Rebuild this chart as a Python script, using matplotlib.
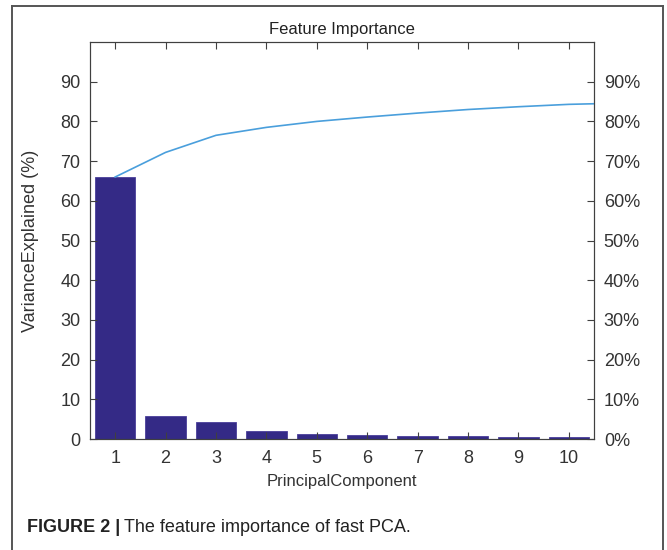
import matplotlib.pyplot as plt
from matplotlib.lines import Line2D
from matplotlib.ticker import FuncFormatter

plt.rcParams["font.family"] = ["Liberation Sans", "DejaVu Sans"]

components = [1, 2, 3, 4, 5, 6, 7, 8, 9, 10]
variance = [66.0, 5.8, 4.35, 1.95, 1.35, 0.95, 0.85, 0.7, 0.6, 0.5]
# cumulative curve as drawn (it runs on past the last bar to the axis edge)
cum_x = [1, 2, 3, 4, 5, 6, 7, 8, 9, 10, 11]
cum_pct = [66.0, 72.2, 76.5, 78.5, 80.0, 81.1, 82.1, 83.0, 83.7, 84.3, 84.6]
yticks = [0, 10, 20, 30, 40, 50, 60, 70, 80, 90]

axis_col = "#404040"

fig = plt.figure(figsize=(6.67, 5.5), dpi=100)
ax = fig.add_axes([0.1349, 0.2018, 0.7557, 0.7218])

ax.bar(components, variance, width=0.8, color="#342a86", edgecolor="#4a3f9a", linewidth=0.6)
ax.set_xlim(0.5, 10.5)
ax.set_ylim(0, 100)
ax.set_xticks(components)
ax.set_yticks(yticks)

ax2 = ax.twinx()
ax2.plot(cum_x, cum_pct, color="#4a9fdc", linewidth=1.2)
ax2.set_xlim(0.5, 10.5)
ax2.set_ylim(0, 100)
ax2.set_yticks(yticks)
ax2.yaxis.set_major_formatter(FuncFormatter(lambda v, p: f"{v:.0f}%"))

for a in (ax, ax2):
    for s in a.spines.values():
        s.set_color(axis_col)
        s.set_linewidth(0.8)
    a.tick_params(direction="in", length=5, width=0.8, color=axis_col,
                  labelcolor="#333333", labelsize=13, pad=7)
ax.tick_params(axis="x", top=True, pad=8)

ax.set_title("Feature Importance", fontsize=12, color="#222222", pad=6)
ax.set_xlabel("PrincipalComponent", fontsize=12, color="#333333", labelpad=5)
ax.set_ylabel("VarianceExplained (%)", fontsize=13, color="#333333", labelpad=15)

# outer figure frame (left, top, right)
for xs, ys in [([12 / 667, 12 / 667], [0, 1 - 6 / 550]),
               ([12 / 667, 663 / 667], [1 - 6 / 550, 1 - 6 / 550]),
               ([663 / 667, 663 / 667], [1 - 6 / 550, 0])]:
    fig.add_artist(Line2D(xs, ys, color="#555555", linewidth=1.4, transform=fig.transFigure))

# caption: bold label, then plain text placed right after it
cap = fig.text(27 / 667, 1 - 527 / 550, "FIGURE 2 |", fontsize=13, fontweight="bold",
               color="#222222", va="center", ha="left")
ax.annotate("The feature importance of fast PCA.", xy=(1, 0.5), xycoords=cap,
            xytext=(3, 0), textcoords="offset points", fontsize=13, color="#222222",
            va="center", ha="left", annotation_clip=False)

fig.savefig("out.png", dpi=100)
